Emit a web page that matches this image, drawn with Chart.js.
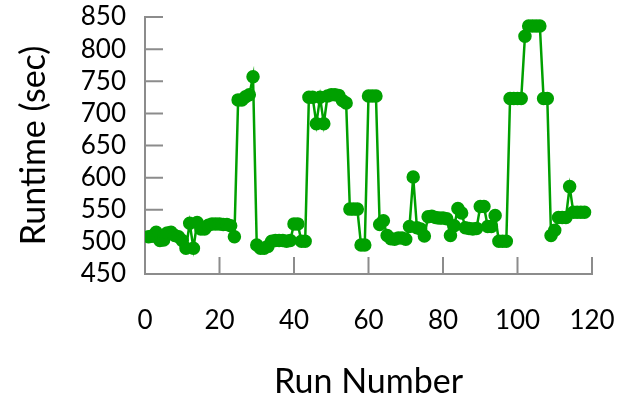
<!DOCTYPE html>
<html>
<head>
<meta charset="utf-8">
<script src="https://cdn.jsdelivr.net/npm/chart.js@4"></script>
<style>
  html, body { margin: 0; padding: 0; background: #fff; }
  #wrap { width: 633px; height: 402px; }
</style>
</head>
<body>
<div id="wrap"><canvas id="runChart" width="633" height="402"></canvas></div>
<script>
// run numbers 1..118 and measured runtimes (sec)
const runs = [];
for (let i = 1; i <= 118; i++) runs.push(i);

const runtimes = [
  508, 509, 515, 502, 503, 514, 515, 510, 508, 502,
  490, 529, 490, 530, 520, 520, 526, 528, 528, 528,
  527, 527, 525, 508, 721, 721, 726, 729, 757, 495,
  490, 490, 493, 501, 502, 502, 502, 501, 502, 528,
  528, 501, 501, 725, 725, 684, 725, 684, 727, 729,
  729, 728, 720, 716, 551, 551, 551, 495, 495, 727,
  727, 727, 527, 533, 510, 505, 504, 506, 506, 504,
  524, 601, 522, 520, 509, 539, 540, 538, 537, 537,
  536, 510, 525, 552, 545, 522, 521, 520, 521, 555,
  555, 524, 524, 541, 501, 501, 501, 723, 723, 723,
  723, 820, 836, 836, 836, 836, 723, 723, 510, 518,
  538, 538, 538, 586, 546, 546, 546, 546
];

const xTicks = [0, 20, 40, 60, 80, 100, 120];
const yTicks = [450, 500, 550, 600, 650, 700, 750, 800, 850];

const green = '#00a000';
const axisGray = '#8c8c8c';
const font = 'Lato, "Open Sans", sans-serif';

// short tick marks pointing into the plot
const innerTicks = {
  id: 'innerTicks',
  beforeDatasetsDraw(chart) {
    const {ctx, chartArea, scales: {x, y}} = chart;
    ctx.save();
    ctx.strokeStyle = axisGray;
    ctx.lineWidth = 2;
    ctx.beginPath();
    xTicks.forEach(v => {
      const px = x.getPixelForValue(v);
      ctx.moveTo(px, chartArea.bottom);
      ctx.lineTo(px, chartArea.bottom - 17);
    });
    yTicks.forEach(v => {
      const py = y.getPixelForValue(v);
      ctx.moveTo(chartArea.left, py);
      ctx.lineTo(chartArea.left + 18, py);
    });
    ctx.stroke();
    ctx.restore();
  }
};

new Chart(document.getElementById('runChart').getContext('2d'), {
  type: 'line',
  data: {
    labels: runs,
    datasets: [{
      data: runs.map((r, i) => ({x: r, y: runtimes[i]})),
      borderColor: green,
      backgroundColor: green,
      pointBackgroundColor: green,
      pointBorderColor: green,
      borderWidth: 2.5,
      pointRadius: 5.5,
      tension: 0,
      fill: false
    }]
  },
  options: {
    responsive: false,
    animation: false,
    layout: { padding: { top: 17, right: 41, left: 0, bottom: 0 } },
    plugins: { legend: { display: false }, tooltip: { enabled: false } },
    scales: {
      x: {
        type: 'linear',
        min: 0,
        max: 120,
        afterFit: s => { s.height = 128; s.paddingLeft = 0; s.paddingRight = 0; },
        afterBuildTicks: s => { s.ticks = xTicks.map(v => ({value: v})); },
        grid: { drawOnChartArea: false, drawTicks: false },
        border: { display: true, color: axisGray, width: 2 },
        ticks: { color: '#000', font: { family: font, size: 26 }, padding: 31, maxRotation: 0, autoSkip: false },
        title: { display: true, text: 'Run Number', color: '#000',
                 font: { family: font, size: 34 }, padding: { top: 0, bottom: 0 } }
      },
      y: {
        min: 450,
        max: 850,
        afterFit: s => { s.width = 145; s.paddingTop = 0; s.paddingBottom = 0; },
        afterBuildTicks: s => { s.ticks = yTicks.map(v => ({value: v})); },
        grid: { drawOnChartArea: false, drawTicks: false },
        border: { display: true, color: axisGray, width: 2 },
        ticks: { color: '#000', font: { family: font, size: 26 }, padding: 19, autoSkip: false },
        title: { display: true, text: 'Runtime (sec)', color: '#000',
                 font: { family: font, size: 34 }, padding: { top: 14, bottom: 0 } }
      }
    }
  },
  plugins: [innerTicks]
});
</script>
</body>
</html>
